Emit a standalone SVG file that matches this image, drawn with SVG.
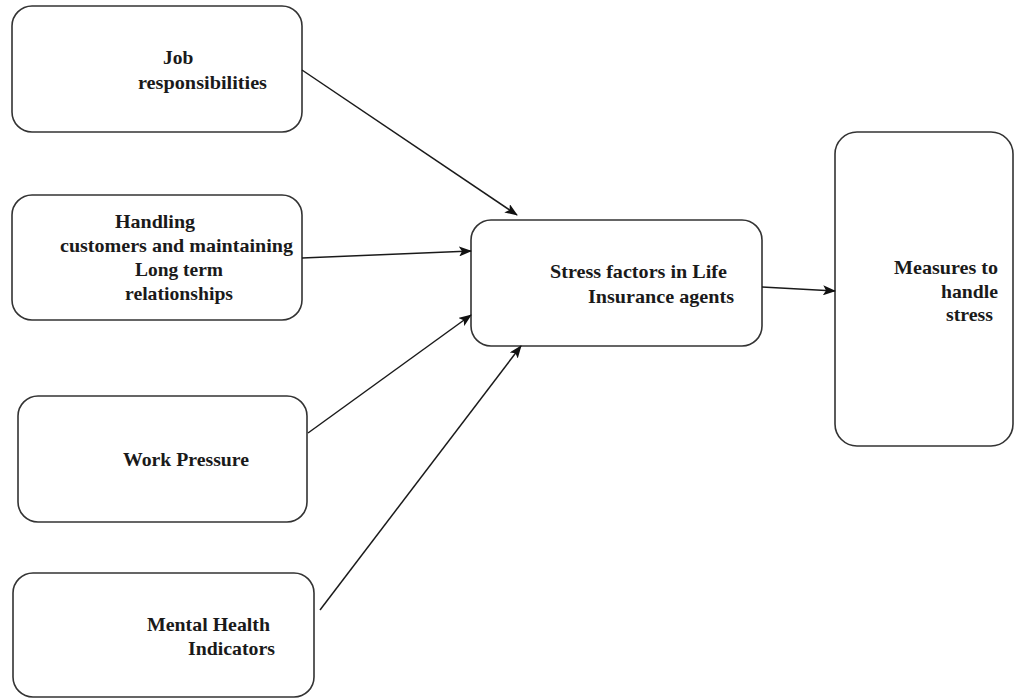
<svg xmlns="http://www.w3.org/2000/svg" width="1014" height="698" viewBox="0 0 1014 698">
<style>
.box{fill:#fff;stroke:#333;stroke-width:1.6}
.t{font-family:"Liberation Serif","Times New Roman",serif;font-weight:bold;font-size:19.5px;fill:#1a1a1a}
.c{stroke:#1a1a1a;stroke-width:1.5;fill:none;marker-end:url(#ah)}
</style>
<defs>
<marker id="ah" markerWidth="13" markerHeight="10" refX="12" refY="5" orient="auto" markerUnits="userSpaceOnUse">
<path d="M0,0 L13,5 L0,10 L3,5 Z" fill="#111"/>
</marker>
</defs>
<rect width="1014" height="698" fill="#fff"/>
<g id="n1">
<rect class="box" x="12" y="6" width="290" height="126" rx="20"/>
<text class="t" x="163" y="64">Job</text>
<text class="t" x="138" y="89" textLength="129" lengthAdjust="spacingAndGlyphs">responsibilities</text>
</g>
<g id="n2">
<rect class="box" x="12" y="195" width="290" height="125" rx="20"/>
<text class="t" x="115" y="228" textLength="80" lengthAdjust="spacingAndGlyphs">Handling</text>
<text class="t" x="60" y="252" textLength="233" lengthAdjust="spacingAndGlyphs">customers and maintaining</text>
<text class="t" x="135" y="276" textLength="88" lengthAdjust="spacingAndGlyphs">Long term</text>
<text class="t" x="125" y="300" textLength="108" lengthAdjust="spacingAndGlyphs">relationships</text>
</g>
<g id="n3">
<rect class="box" x="18" y="396" width="289" height="126" rx="20"/>
<text class="t" x="123" y="466" textLength="126" lengthAdjust="spacingAndGlyphs">Work Pressure</text>
</g>
<g id="n4">
<rect class="box" x="13" y="573" width="301" height="124" rx="20"/>
<text class="t" x="147" y="631" textLength="123" lengthAdjust="spacingAndGlyphs">Mental Health</text>
<text class="t" x="188" y="655" textLength="87" lengthAdjust="spacingAndGlyphs">Indicators</text>
</g>
<g id="n5">
<rect class="box" x="471" y="220" width="291" height="126" rx="20"/>
<text class="t" x="550" y="278" textLength="177" lengthAdjust="spacingAndGlyphs">Stress factors in Life</text>
<text class="t" x="588" y="303" textLength="146" lengthAdjust="spacingAndGlyphs">Insurance agents</text>
</g>
<g id="n6">
<rect class="box" x="835" y="132" width="178" height="314" rx="22"/>
<text class="t" x="894" y="274" textLength="104" lengthAdjust="spacingAndGlyphs">Measures to</text>
<text class="t" x="941" y="298" textLength="57" lengthAdjust="spacingAndGlyphs">handle</text>
<text class="t" x="946" y="321" textLength="47" lengthAdjust="spacingAndGlyphs">stress</text>
</g>
<g id="connectors">
<line class="c" x1="302" y1="70" x2="517" y2="215"/>
<line class="c" x1="302" y1="258" x2="471" y2="251"/>
<line class="c" x1="308" y1="433" x2="471" y2="315"/>
<line class="c" x1="320" y1="610" x2="521" y2="346"/>
<line class="c" x1="762" y1="287" x2="835" y2="291"/>
</g>
</svg>
